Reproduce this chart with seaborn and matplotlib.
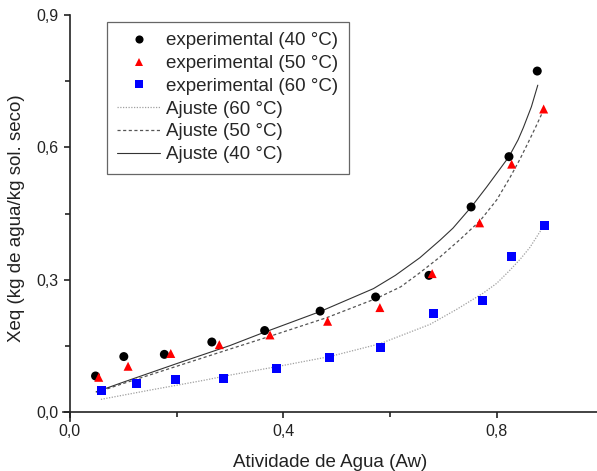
import numpy as np
import pandas as pd
import matplotlib
matplotlib.use("Agg")
import matplotlib.pyplot as plt
from matplotlib.ticker import FixedLocator, FuncFormatter
import seaborn as sns

# Experimental sorption data (Aw, Xeq)
aw_40 = [0.048, 0.101, 0.177, 0.266, 0.365, 0.469, 0.573, 0.673, 0.752, 0.823, 0.876]
xeq_40 = [0.082, 0.126, 0.131, 0.159, 0.185, 0.229, 0.261, 0.310, 0.465, 0.579, 0.773]

aw_50 = [0.054, 0.109, 0.189, 0.280, 0.375, 0.483, 0.581, 0.679, 0.768, 0.828, 0.888]
xeq_50 = [0.079, 0.104, 0.133, 0.153, 0.175, 0.206, 0.237, 0.314, 0.429, 0.562, 0.687]

aw_60 = [0.060, 0.124, 0.198, 0.287, 0.388, 0.487, 0.582, 0.681, 0.774, 0.828, 0.889]
xeq_60 = [0.050, 0.066, 0.075, 0.077, 0.100, 0.125, 0.147, 0.223, 0.253, 0.352, 0.424]

# Fitted isotherm curves (Aw, Xeq)
fit_aw_40 = [0.049, 0.10, 0.20, 0.300, 0.362, 0.469, 0.569, 0.610, 0.656, 0.694,
             0.718, 0.753, 0.781, 0.806, 0.823, 0.840, 0.850, 0.865, 0.877]
fit_xeq_40 = [0.046, 0.068, 0.110, 0.151, 0.180, 0.228, 0.280, 0.310, 0.350, 0.390,
              0.417, 0.466, 0.510, 0.551, 0.579, 0.617, 0.645, 0.692, 0.741]

fit_aw_50 = [0.050, 0.10, 0.20, 0.300, 0.375, 0.481, 0.575, 0.620, 0.656, 0.694,
             0.731, 0.769, 0.800, 0.825, 0.843, 0.859, 0.873, 0.886]
fit_xeq_50 = [0.045, 0.065, 0.104, 0.143, 0.172, 0.214, 0.258, 0.284, 0.316, 0.352,
              0.391, 0.434, 0.481, 0.532, 0.572, 0.611, 0.646, 0.680]

fit_aw_60 = [0.058, 0.15, 0.25, 0.300, 0.387, 0.487, 0.581, 0.675, 0.725, 0.775,
             0.800, 0.825, 0.845, 0.862, 0.887]
fit_xeq_60 = [0.029, 0.050, 0.072, 0.084, 0.103, 0.126, 0.155, 0.199, 0.233, 0.270,
              0.292, 0.322, 0.348, 0.373, 0.420]

x_ticks = [0.0, 0.4, 0.8]
y_ticks = [0.0, 0.3, 0.6, 0.9]

sns.set_style("ticks")
plt.rcParams["font.family"] = ["Liberation Sans", "DejaVu Sans"]

fig = plt.figure(figsize=(5.97, 4.71), dpi=100)
ax = fig.add_axes([63 / 597, 1 - 421 / 471, 1 - 63 / 597, (421 - 15) / 471])

exp = pd.concat([
    pd.DataFrame({"aw": aw_40, "xeq": xeq_40, "serie": "experimental (40 °C)"}),
    pd.DataFrame({"aw": aw_50, "xeq": xeq_50, "serie": "experimental (50 °C)"}),
    pd.DataFrame({"aw": aw_60, "xeq": xeq_60, "serie": "experimental (60 °C)"}),
])

fit60 = pd.DataFrame({"aw": fit_aw_60, "xeq": fit_xeq_60})
fit50 = pd.DataFrame({"aw": fit_aw_50, "xeq": fit_xeq_50})
fit40 = pd.DataFrame({"aw": fit_aw_40, "xeq": fit_xeq_40})

sns.lineplot(data=fit60, x="aw", y="xeq", ax=ax, color="#a0a0a0", lw=0.9,
             linestyle=(0, (1, 1.2)), sort=False, label="Ajuste (60 °C)", zorder=2)
sns.lineplot(data=fit50, x="aw", y="xeq", ax=ax, color="#555555", lw=0.9,
             linestyle=(0, (2.5, 2)), sort=False, label="Ajuste (50 °C)", zorder=2)
sns.lineplot(data=fit40, x="aw", y="xeq", ax=ax, color="#333333", lw=0.8,
             sort=False, label="Ajuste (40 °C)", zorder=2)

sns.scatterplot(data=exp, x="aw", y="xeq", hue="serie", style="serie", ax=ax,
                palette={"experimental (40 °C)": "black",
                         "experimental (50 °C)": "#ff0000",
                         "experimental (60 °C)": "#0000ff"},
                markers={"experimental (40 °C)": "o",
                         "experimental (50 °C)": "^",
                         "experimental (60 °C)": "s"},
                s=42, linewidth=0, zorder=3)

ax.set_xlim(-0.013, 0.988)
ax.set_ylim(-0.02, 0.9)

ax.spines["left"].set_position(("data", 0))
ax.spines["bottom"].set_position(("data", 0))
ax.spines["right"].set_visible(False)
ax.spines["top"].set_visible(False)
for s in ("left", "bottom"):
    ax.spines[s].set_linewidth(1.2)
    ax.spines[s].set_color("#222222")

comma = FuncFormatter(lambda v, p: f"{v:.1f}".replace(".", ","))
ax.xaxis.set_major_locator(FixedLocator(x_ticks))
ax.yaxis.set_major_locator(FixedLocator(y_ticks))
ax.xaxis.set_minor_locator(FixedLocator([0.2, 0.6]))
ax.yaxis.set_minor_locator(FixedLocator([0.15, 0.45, 0.75]))
ax.xaxis.set_major_formatter(comma)
ax.yaxis.set_major_formatter(comma)
ax.tick_params(axis="both", which="both", direction="out", width=1.2,
               color="#222222", labelsize=11.5, labelcolor="#222222", pad=4)
ax.tick_params(axis="both", which="major", length=4.5)
ax.tick_params(axis="both", which="minor", length=3.5)

ax.set_xlabel("Atividade de Agua (Aw)", fontsize=13.5, color="#222222", labelpad=11)
ax.set_ylabel("Xeq (kg de agua/kg sol. seco)", fontsize=13.5, color="#222222", labelpad=8)

handles, labels = ax.get_legend_handles_labels()
order = ["experimental (40 °C)", "experimental (50 °C)", "experimental (60 °C)",
         "Ajuste (60 °C)", "Ajuste (50 °C)", "Ajuste (40 °C)"]
hmap = dict(zip(labels, handles))
leg = ax.legend([hmap[k] for k in order], order, loc="upper left",
                bbox_to_anchor=(107 / 597, 1 - 22 / 471),
                bbox_transform=fig.transFigure, borderaxespad=0,
                fontsize=13.5, frameon=True,
                fancybox=False, edgecolor="#666666", framealpha=1,
                handlelength=2.3, handletextpad=0.3, labelspacing=0.3,
                borderpad=0.55, markerscale=0.9)
leg.get_frame().set_linewidth(0.9)

fig.savefig("out.png", dpi=100)
